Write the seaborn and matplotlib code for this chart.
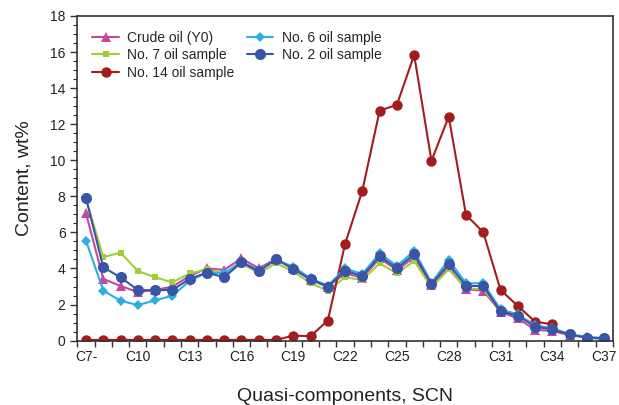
import numpy as np
import pandas as pd
import matplotlib
matplotlib.use("Agg")
import matplotlib.pyplot as plt
import seaborn as sns
from matplotlib.ticker import MultipleLocator, FixedLocator

sns.set_theme(style="white")
plt.rcParams['font.family'] = ['Liberation Sans', 'DejaVu Sans']

scn = ["C7-"] + [f"C{i}" for i in range(8, 38)]
tick_labels = ["C7-", "C10", "C13", "C16", "C19", "C22", "C25", "C28", "C31", "C34", "C37"]

crude_y0 = [7.05, 3.42, 3.03, 2.69, 2.81, 2.99, 3.58, 4.01, 3.92, 4.56, 4.01, 4.53, 4.01, 3.36, 2.99,
            3.73, 3.49, 4.56, 3.92, 4.62, 3.08, 4.06, 2.84, 2.77, 1.60, 1.23, 0.60, 0.53, 0.30, 0.17, 0.10]
no7 = [7.85, 4.63, 4.88, 3.86, 3.51, 3.23, 3.73, 3.95, 3.73, 4.29, 3.73, 4.29, 3.84, 3.18, 2.77,
       3.51, 3.36, 4.29, 3.73, 4.42, 2.95, 3.95, 2.90, 2.84, 1.73, 1.42, 0.80, 0.66, 0.32, 0.18, 0.12]
no14 = [0.04, 0.04, 0.04, 0.04, 0.04, 0.04, 0.04, 0.04, 0.04, 0.04, 0.04, 0.04, 0.27, 0.25, 1.11,
        5.36, 8.32, 12.75, 13.08, 15.84, 9.97, 12.42, 6.97, 6.01, 2.81, 1.92, 1.05, 0.90,
        np.nan, np.nan, np.nan]
no6 = [5.54, 2.77, 2.21, 1.97, 2.23, 2.49, 3.31, 3.77, 3.73, 4.38, 3.92, 4.47, 4.10, 3.45, 3.05,
       4.00, 3.69, 4.84, 4.14, 4.97, 3.21, 4.47, 3.18, 3.18, 1.73, 1.45, 0.85, 0.68, 0.36, 0.20, 0.15]
no2 = [7.90, 4.06, 3.51, 2.81, 2.79, 2.81, 3.42, 3.77, 3.51, 4.34, 3.84, 4.51, 3.97, 3.40, 2.99,
       3.88, 3.58, 4.69, 4.01, 4.79, 3.12, 4.25, 3.03, 3.03, 1.62, 1.38, 0.77, 0.62, 0.34, 0.16, 0.12]

series_names = ["Crude oil (Y0)", "No. 7 oil sample", "No. 14 oil sample",
                "No. 6 oil sample", "No. 2 oil sample"]
series_values = [crude_y0, no7, no14, no6, no2]
colors = ["#C4489E", "#A2CC3A", "#A31D1F", "#2CAEE4", "#3B55A6"]
markers = ["^", "s", "o", "D", "o"]
msizes = [6.5, 4.5, 7.5, 5, 8]

xpos = np.arange(len(scn))

fig = plt.figure(figsize=(6.19, 4.05), dpi=100)
ax = fig.add_axes([0.125, 0.159, 0.865, 0.8015])

for name, vals, c, m, ms in zip(series_names, series_values, colors, markers, msizes):
    df = pd.DataFrame({"x": xpos, "y": vals}).dropna()
    sns.lineplot(data=df, x="x", y="y", ax=ax, color=c, marker=m, markersize=ms,
                 markeredgewidth=0, linewidth=1.5, label=name, sort=False)

ax.set_xlim(-0.5, len(scn) - 0.5)
ax.set_ylim(0, 18)
ax.set_yticks(np.arange(0, 19, 2))
ax.yaxis.set_minor_locator(MultipleLocator(0.5))
ax.set_xticks([scn.index(t) for t in tick_labels])
ax.set_xticklabels(tick_labels)
ax.xaxis.set_minor_locator(FixedLocator(np.arange(-0.5, len(scn), 1.0)))

ax.tick_params(axis="x", which="major", length=0, pad=7, labelsize=10, colors="#222222")
ax.tick_params(axis="x", which="minor", bottom=True, length=4, width=1, color="#333333", direction="out")
ax.tick_params(axis="y", which="major", left=True, length=5, width=1, color="#333333", labelsize=10,
               labelcolor="#222222", direction="out")
ax.tick_params(axis="y", which="minor", left=True, length=3, width=0.8, color="#333333", direction="out")

for s in ax.spines.values():
    s.set_color("#333333")
    s.set_linewidth(1.2)
    s.set_visible(True)

ax.set_xlabel("Quasi-components, SCN", fontsize=14, labelpad=17, color="#222222")
ax.set_ylabel("Content, wt%", fontsize=14, labelpad=13, color="#222222")

leg = ax.legend(ncol=2, loc="upper left", bbox_to_anchor=(0.01, 0.985), frameon=False,
                fontsize=10, handlelength=1.9, handletextpad=0.6, columnspacing=0.9,
                labelspacing=0.25, borderaxespad=0.3)

fig.savefig("out.png", dpi=100, facecolor="white")
